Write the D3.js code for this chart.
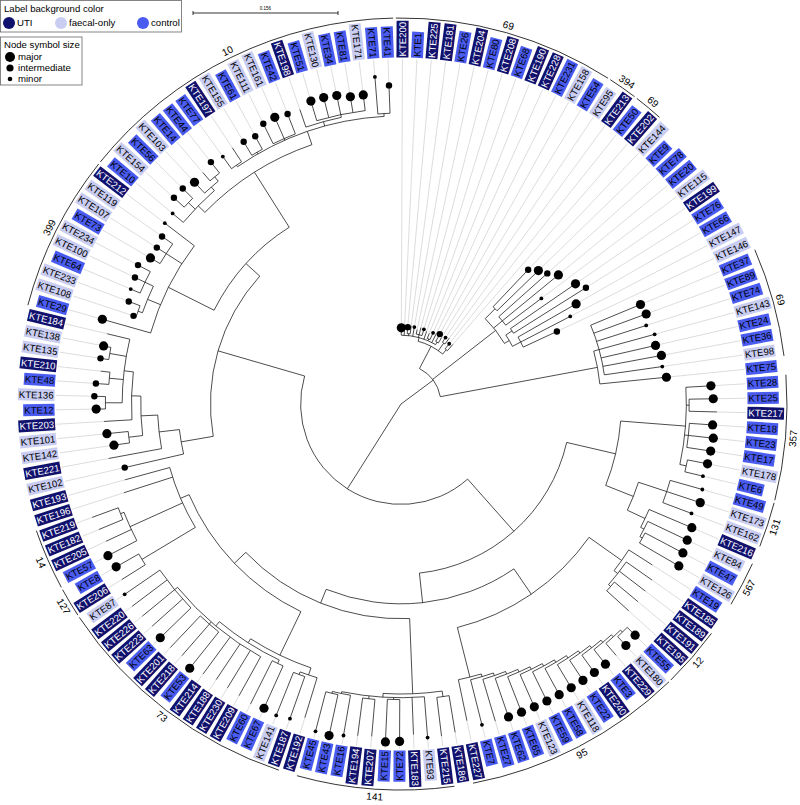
<!DOCTYPE html>
<html><head><meta charset="utf-8">
<script src="https://cdn.jsdelivr.net/npm/d3@7"></script>
<style>
body{margin:0;background:#fff}
svg{display:block}
text{font-family:"Liberation Sans",Arial,Helvetica,sans-serif}
</style>
</head><body>
<svg id="chart" width="800" height="805"></svg>
<script>
// ---------------- DATA ----------------
// Tree topology with branch lengths (x 10^-3 substitutions/site), Newick pieces
const nwA0 = "((KTE200:8,KTE1:6,(KTE225:7,KTE181:9):2,KTE26:10,(KTE204:5,KTE80:8,KTE208:7):3,KTE68:9,(KTE190:6,KTE228:8):2,KTE231:11,(KTE158:9,KTE54:7):3):4,(KTE95:6,KTE213:8):10,(KTE50:7,KTE202:9):6)";
const nwA1 = "((KTE144:55,KTE9:62):15,(KTE78:70,KTE20:78,KTE115:48):12,((KTE199:85,KTE76:92):8,(KTE66:72,KTE147:60,KTE146:40):10):6)";
const nwA2 = "((KTE37:58,KTE89:60,KTE74:56,KTE143:62,KTE24:60,KTE36:64,KTE98:63):6,KTE75:72)";
const nw357 = "(KTE28:27,(KTE25:26,KTE217:30):3,(KTE18:25,KTE23:27,KTE17:26):4,(KTE178:22,KTE6:20):7)";
const nw131 = "(KTE49:36,KTE173:38,KTE162:33)";
const nw567 = "(KTE216:50,(KTE84:47,(KTE47:46,KTE126:49):3):4)";
const nw12 = "(KTE19:30,(KTE185:34,KTE189:35,(KTE191:33,KTE195:32):3):5)";
const nw95 = "((((((((((((((KTE55:12,KTE180:13):3,KTE229:17):3,KTE3:20):3,KTE240:23):3,KTE22:26):3,KTE118:29):3,KTE58:32):3,KTE59:35):3,KTE123:38):3,KTE65:41):3,KTE62:44):3,KTE27:47):3,KTE7:50):3,KTE227:45)";
const nw141 = "((KTE186:40,KTE215:42):6,(KTE93:44,KTE183:40,(KTE72:45,KTE15:46):2,(KTE207:40,KTE194:41):3,(KTE16:44,(KTE43:45,KTE45:44):2):2):4)";
const nw73 = "((KTE192:45,(KTE187:48,KTE141:50):3):8,((KTE67:50,KTE60:52):4,(KTE209:48,KTE230:47,KTE188:46,KTE214:49,(KTE53:50,KTE218:45,KTE201:47):3,(KTE63:46,KTE223:44,KTE226:45,KTE220:47,KTE87:46):4):6):5)";
const nw127 = "(KTE206:30,KTE8:28)";
const nw14 = "(KTE57:35,KTE205:30,(KTE182:28,KTE219:30):4)";
const nwLeft = "(KTE102:65,(KTE221:58,((KTE142:17,KTE101:23):15,(KTE203:30,((KTE12:10,KTE136:12):18,(KTE48:14,KTE210:10):15,(KTE135:9,KTE138:8):18,KTE184:25):10):10):18):22)";
const nw399 = "(KTE29:54,((KTE108:3,KTE233:13):5,(KTE64:11,KTE100:12,KTE234:15):10):15,(KTE73:12,KTE107:12,KTE119:14):20,KTE212:40)";
const nw10 = "((KTE10:15,(KTE154:15,KTE56:15):10,(KTE103:16,(KTE14:12,KTE44:15):6):5):10,((KTE77:16,KTE197:18):2,(KTE155:17,KTE61:16):2,(KTE111:24,KTE161:25,KTE42:23):2,(KTE198:20,(KTE51:22,KTE130:22,KTE34:21,KTE81:17,KTE171:17):3):5,(KTE71:40,KTE41:30):3):15)";

const treeNewick =
  "((" + nwA0 + ":27," + nwA1 + ":86," + nwA2 + ":172):43," +
  "(((" + nw357 + ":70,(" + nw131 + ":32," + nw567 + ":21):32):54," +
  "((" + nw12 + ":43," + nw95 + ":55):33,(" + nw141 + ":81,(" + nw73 + ":52,(" + nw127 + ":67," + nw14 + ":62,KTE196:55,KTE193:50):10):17):16):32):75," +
  "(" + nwLeft + ":35,(" + nw399 + ":55," + nw10 + ":70):20):97):108);";

const utiIsolates = ["KTE200","KTE225","KTE181","KTE204","KTE208","KTE190","KTE228","KTE213","KTE202","KTE199","KTE217","KTE216","KTE185","KTE189","KTE191","KTE195","KTE229","KTE240","KTE227","KTE186","KTE215","KTE183","KTE207","KTE194","KTE192","KTE187","KTE209","KTE230","KTE188","KTE214","KTE218","KTE201","KTE223","KTE226","KTE220","KTE206","KTE205","KTE182","KTE219","KTE196","KTE193","KTE221","KTE203","KTE210","KTE184","KTE212","KTE197","KTE198"];
const faecalOnly = ["KTE158","KTE95","KTE144","KTE115","KTE147","KTE146","KTE143","KTE98","KTE178","KTE173","KTE162","KTE84","KTE126","KTE180","KTE118","KTE123","KTE93","KTE141","KTE87","KTE102","KTE142","KTE101","KTE136","KTE135","KTE138","KTE108","KTE233","KTE100","KTE234","KTE107","KTE119","KTE154","KTE103","KTE155","KTE111","KTE161","KTE130","KTE171"];

const majorNodes = ["KTE200","KTE9","KTE20","KTE199","KTE66","KTE37","KTE89","KTE24","KTE36","KTE75","KTE28","KTE25","KTE18","KTE23","KTE17","KTE178","KTE173","KTE216","KTE84","KTE47","KTE126","KTE55","KTE180","KTE3","KTE240","KTE22","KTE118","KTE58","KTE59","KTE123","KTE65","KTE62","KTE72","KTE15","KTE43","KTE67","KTE53","KTE63","KTE8","KTE57","KTE142","KTE101","KTE12","KTE138","KTE29","KTE73","KTE103","KTE161","KTE51","KTE130","KTE34","KTE81","KTE171"];
const intermediateNodes = ["KTE225","KTE158","KTE144","KTE78","KTE76","KTE146","KTE102","KTE136","KTE48","KTE135","KTE108","KTE233","KTE100","KTE234","KTE107","KTE119","KTE154","KTE56","KTE44","KTE155","KTE61","KTE111","KTE42","KTE41"];
const minorNodes = ["KTE26","KTE208","KTE228","KTE95","KTE50","KTE115","KTE147","KTE74","KTE143","KTE98","KTE6","KTE49","KTE162","KTE7","KTE93","KTE16","KTE45","KTE187","KTE141","KTE87","KTE64","KTE212","KTE10","KTE77","KTE71"];

const cladeNames = ["69","394","69","69","357","131","567","12","95","141","73","127","14","399","10"];
const cladeFirst = ["KTE200","KTE95","KTE50","KTE37","KTE28","KTE49","KTE84","KTE189","KTE180","KTE215","KTE187","KTE206","KTE57","KTE29","KTE10"];
const cladeLast  = ["KTE54","KTE213","KTE202","KTE98","KTE6","KTE162","KTE126","KTE55","KTE227","KTE45","KTE87","KTE8","KTE219","KTE212","KTE41"];

const legendSources = ["UTI","faecal-only","control"];
const legendSymbols = ["major","intermediate","minor"];
const scaleValue = 0.156;

// ---------------- STYLE ----------------
const colUTI = "#11116e", colFaecal = "#c9cdf2", colControl = "#4a5cf0";
const cx = 401, cy = 404, Rlab = 346, Rclade = 386, RcladeText = 393.5;
const symR = {major: 4.6, intermediate: 3.2, minor: 1.9};

// ---------------- PARSER ----------------
function parseNewick(s){
  let i = 0;
  function node(){
    const n = {children: []};
    if (s[i] === "("){
      i++;
      n.children.push(node());
      while (s[i] === ","){ i++; n.children.push(node()); }
      i++;
    }
    let name = "";
    while (i < s.length && !",():;".includes(s[i])) name += s[i++];
    n.name = name.trim();
    n.length = 0;
    if (s[i] === ":"){ i++; let l = ""; while (i < s.length && !",();".includes(s[i])) l += s[i++]; n.length = +l; }
    if (!n.children.length) delete n.children;
    return n;
  }
  return node();
}

const srcOf = n => utiIsolates.includes(n) ? "UTI" : faecalOnly.includes(n) ? "faecal-only" : "control";
const fillOf = s => s === "UTI" ? colUTI : s === "faecal-only" ? colFaecal : colControl;
const symOf = n => majorNodes.includes(n) ? "major" : intermediateNodes.includes(n) ? "intermediate" : minorNodes.includes(n) ? "minor" : null;

// ---------------- LAYOUT ----------------
const root = d3.hierarchy(parseNewick(treeNewick));
root.eachBefore(d => d.dist = d.parent ? d.parent.dist + d.data.length : 0);
const leaves = root.leaves();
const angle = d3.scaleLinear().domain([0, leaves.length]).range([0, 2*Math.PI]);
leaves.forEach((d, i) => d.ang = angle(i + 0.1));
root.eachAfter(d => {
  if (d.children){
    d.a0 = d.children[0].ang;
    d.a1 = d.children[d.children.length-1].ang;
    d.ang = (d.a0 + d.a1) / 2;
  }
});
const rs = d3.scaleLinear().domain([0, 156]).range([0, 145]);
const P = (a, r) => [r*Math.sin(a), -r*Math.cos(a)];
const arcPath = (a0, a1, r) => {
  const p0 = P(a0, r), p1 = P(a1, r);
  return `M${p0[0]},${p0[1]}A${r},${r} 0 ${a1 - a0 > Math.PI ? 1 : 0} 1 ${p1[0]},${p1[1]}`;
};

const svg = d3.select("#chart");
svg.append("rect").attr("width", 800).attr("height", 805).attr("fill", "#fff");
const g = svg.append("g").attr("transform", `translate(${cx},${cy})`);

// leader lines
g.append("g").selectAll("line").data(leaves).join("line")
  .attr("x1", d => P(d.ang, rs(d.dist))[0]).attr("y1", d => P(d.ang, rs(d.dist))[1])
  .attr("x2", d => P(d.ang, Rlab - 1)[0]).attr("y2", d => P(d.ang, Rlab - 1)[1])
  .attr("stroke", "#c4c4c4").attr("stroke-width", 0.6);

// tree branches (radial)
const nonRoot = root.descendants().filter(d => d.parent);
g.append("g").selectAll("line").data(nonRoot).join("line")
  .attr("x1", d => P(d.ang, rs(d.parent.dist))[0]).attr("y1", d => P(d.ang, rs(d.parent.dist))[1])
  .attr("x2", d => P(d.ang, rs(d.dist))[0]).attr("y2", d => P(d.ang, rs(d.dist))[1])
  .attr("stroke", "#000").attr("stroke-width", 0.7);
// arcs
const internals = root.descendants().filter(d => d.children && d.dist > 0);
g.append("g").selectAll("path").data(internals).join("path")
  .attr("d", d => arcPath(d.a0, d.a1, rs(d.dist)))
  .attr("fill", "none").attr("stroke", "#000").attr("stroke-width", 0.7);

// node symbols
g.append("g").selectAll("circle").data(leaves.filter(d => symOf(d.data.name))).join("circle")
  .attr("cx", d => P(d.ang, rs(d.dist))[0]).attr("cy", d => P(d.ang, rs(d.dist))[1])
  .attr("r", d => symR[symOf(d.data.name)]).attr("fill", "#000");

// leaf labels
const deg = a => a * 180 / Math.PI;
const lab = g.append("g").selectAll("g").data(leaves).join("g")
  .attr("transform", d => `rotate(${deg(d.ang) - 90}) translate(${Rlab},0)` + (deg(d.ang) > 180 ? " rotate(180)" : ""));
lab.append("rect").attr("fill", d => fillOf(srcOf(d.data.name)));
lab.append("text")
  .attr("text-anchor", d => deg(d.ang) > 180 ? "end" : "start")
  .attr("x", d => deg(d.ang) > 180 ? -1.5 : 1.5)
  .attr("dy", "0.36em")
  .attr("font-size", 9.6)
  .attr("fill", d => srcOf(d.data.name) === "UTI" ? "#fff" : "#000")
  .text(d => d.data.name);
lab.each(function(){
  const b = d3.select(this).select("text").node().getBBox();
  d3.select(this).select("rect").attr("x", b.x - 1).attr("y", -6).attr("width", b.width + 2).attr("height", 12);
});

// clade arcs
const leafIndex = n => leaves.findIndex(d => d.data.name === n);
const clades = cladeNames.map((name, i) => {
  const a0 = angle(leafIndex(cladeFirst[i]) + 0.1) - Math.PI/180;
  const a1 = angle(leafIndex(cladeLast[i]) + 0.1) + Math.PI/180;
  return {name, a0, a1, mid: (a0 + a1) / 2};
});
g.append("g").selectAll("path").data(clades).join("path")
  .attr("d", d => arcPath(d.a0, d.a1, Rclade))
  .attr("fill", "none").attr("stroke", "#000").attr("stroke-width", 0.8);
g.append("g").selectAll("text").data(clades).join("text")
  .attr("transform", d => {
    const p = P(d.mid, RcladeText); let r = deg(d.mid);
    r = r > 270 ? r - 360 : (r > 90 ? r - 180 : r);
    return `translate(${p[0]},${p[1]}) rotate(${r})`;
  })
  .attr("text-anchor", "middle").attr("dominant-baseline", "central")
  .attr("font-size", 10).attr("fill", "#000").text(d => d.name);

// scale bar
const sb = svg.append("g").attr("transform", "translate(193,13)");
const sbLen = rs(scaleValue * 1000);
sb.append("path").attr("d", `M0,-2V2M0,0H${sbLen}M${sbLen},-2V2`).attr("stroke", "#000").attr("stroke-width", 0.8).attr("fill", "none");
sb.append("text").attr("x", sbLen/2).attr("y", -3).attr("text-anchor", "middle").attr("font-size", 4.5).text(scaleValue);

// legends
const L1 = svg.append("g");
L1.append("rect").attr("x", 0.5).attr("y", 0.5).attr("width", 181).attr("height", 31.5).attr("fill", "#fff").attr("stroke", "#666").attr("stroke-width", 0.8);
L1.append("text").attr("x", 4).attr("y", 11.5).attr("font-size", 9.6).text("Label background color");
const li = L1.selectAll("g.it").data(legendSources).join("g").attr("class", "it")
  .attr("transform", (d, i) => `translate(${[9, 61, 143][i]},23)`);
li.append("circle").attr("r", 6).attr("fill", d => fillOf(d));
li.append("text").attr("x", 8).attr("dy", "0.35em").attr("font-size", 9.6).text(d => d);

const L2 = svg.append("g");
L2.append("rect").attr("x", 0.5).attr("y", 37).attr("width", 81.5).attr("height", 48).attr("fill", "#fff").attr("stroke", "#666").attr("stroke-width", 0.8);
L2.append("text").attr("x", 4).attr("y", 47.5).attr("font-size", 9.6).text("Node symbol size");
const si = L2.selectAll("g.it").data(legendSymbols).join("g").attr("class", "it")
  .attr("transform", (d, i) => `translate(10,${57 + i * 11})`);
si.append("circle").attr("r", d => symR[d] + 0.4).attr("fill", "#000");
si.append("text").attr("x", 8).attr("dy", "0.35em").attr("font-size", 9.6).text(d => d);
</script>
</body></html>
